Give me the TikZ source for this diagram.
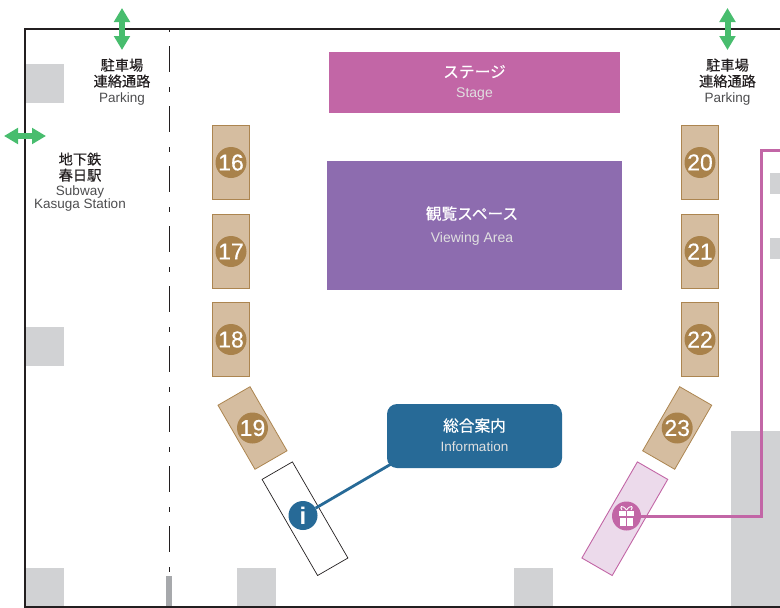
\documentclass[tikz,border=0pt]{standalone}
\usepackage{fontspec}
\setmainfont{Liberation Sans}
\newfontfamily\cjk[FakeBold=0.25]{Noto Sans CJK JP}
\newfontfamily\numf[FakeBold=0.3]{Liberation Sans}
\usetikzlibrary{arrows.meta}
\definecolor{stagec}{HTML}{C266A6}
\definecolor{viewc}{HTML}{8D6CAF}
\definecolor{infoc}{HTML}{276A97}
\definecolor{boothf}{HTML}{D5BDA0}
\definecolor{boothd}{HTML}{AC8550}
\definecolor{numc}{HTML}{A9824B}
\definecolor{greyc}{HTML}{D1D2D4}
\definecolor{giftf}{HTML}{ECDAEB}
\definecolor{barc}{HTML}{A7A9AC}
\definecolor{greenc}{HTML}{48BD6E}
\definecolor{ink}{HTML}{231F20}
\definecolor{enc}{HTML}{4D4D4F}
\tikzset{
  greyblock/.style={fill=greyc,draw=none},
  boothbox/.style={fill=boothf,draw=boothd,line width=0.8pt},
  numdot/.style={circle,fill=numc,draw=none,minimum size=31pt,inner sep=0pt,text=white,font=\numf\fontsize{23}{23}\selectfont},
  bigbox/.style={draw=none,inner sep=0pt},
  boxjp/.style={anchor=base,inner sep=0pt,text=white,font=\cjk\fontsize{15.7}{16}\selectfont},
  boxen/.style={anchor=base,inner sep=0pt,text=white!88!black,font=\fontsize{14}{14}\selectfont},
  jp/.style={anchor=base,align=center,inner sep=0pt,font=\cjk\fontsize{14.2}{16}\selectfont,text=ink},
  en/.style={anchor=base,align=center,inner sep=0pt,text=enc,font=\fontsize{13.5}{13}\selectfont},
  greenarrow/.style={draw=greenc,line width=6pt,{Triangle[width=15.5pt,length=14pt]}-{Triangle[width=15.5pt,length=14pt]}}
}
\begin{document}
\begin{tikzpicture}[x=1pt,y=-1pt]
\useasboundingbox (0,0) rectangle (780,608);
% grey blocks
\fill[greyblock] (25,64) rectangle (64,103);
\fill[greyblock] (25,327) rectangle (64,366);
\fill[greyblock] (25,568) rectangle (64,606);
\fill[greyblock] (237,568) rectangle (276,606);
\fill[greyblock] (514,568) rectangle (553,606);
\fill[greyblock] (731,431) rectangle (780,606);
\fill[greyblock] (770,173) rectangle (780,194);
\fill[greyblock] (770,238) rectangle (780,259);
\fill[barc] (166,576) rectangle (172,606);
% frame
\draw[ink,line width=2pt] (780,29) -- (25,29) -- (25,606.5) -- (780,606.5);
% dash-dot line
\coordinate (d1) at (169.5,29);
\coordinate (d2) at (169.5,574);
\draw[ink,line width=1.4pt,dash pattern=on 5pt off 14pt on 26pt off 15pt,dash phase=2pt] (d1) -- (d2);
% stage etc
\node[bigbox,fill=stagec,minimum width=291pt,minimum height=61pt] (stage) at (474.5,82.5) {};
\node[boxjp] (stagej) at (474.5,77.5) {ステージ};
\node[boxen] (stagee) at (474.5,97) {Stage};
\node[bigbox,fill=viewc,minimum width=295pt,minimum height=129pt] (view) at (474.5,225.5) {};
\node[boxjp] (viewj) at (472,219.5) {観覧スペース};
\node[boxen] (viewe) at (472,242) {Viewing Area};
% booths
\foreach \nm/\xx/\yy/\lab in {b16/231/162.5/16,b17/231/251.5/17,b18/231/339.5/18,b20/700/162.5/20,b21/700/251.5/21,b22/700/339.5/22}{
  \node[boothbox,minimum width=37pt,minimum height=74pt,inner sep=0pt] (\nm) at (\xx,\yy) {};
  \node[numdot] (n\lab) at (\nm.center) {\lab};
}
\node[boothbox,minimum width=37pt,minimum height=74pt,inner sep=0pt,rotate=30] (b19) at (252.5,428) {};
\node[numdot] (n19) at (b19.center) {19};
\node[boothbox,minimum width=37pt,minimum height=74pt,inner sep=0pt,rotate=-30] (b23) at (677.2,428) {};
\node[numdot] (n23) at (b23.center) {23};
% info desk
\node[draw=ink,line width=0.7pt,fill=white,minimum width=35pt,minimum height=111pt,inner sep=0pt,rotate=30] (idesk) at (305,518.7) {};
\node[draw=stagec,line width=0.9pt,fill=giftf,minimum width=35pt,minimum height=111pt,inner sep=0pt,rotate=-30] (gdesk) at (624.8,518.7) {};
% info box and icon
\node[bigbox,fill=infoc,rounded corners=10pt,minimum width=175pt,minimum height=64pt] (ibox) at (474.5,436) {};
\node[boxjp] (iboxj) at (474.5,431.5) {総合案内};
\node[boxen,font=\fontsize{13.5}{14}\selectfont] (iboxe) at (474.5,451) {Information};
\node[circle,fill=infoc,minimum size=29pt,inner sep=0pt,text=white,font=\bfseries\fontsize{24}{24}\selectfont] (icirc) at (303,515.5) {i};
\draw[infoc,line width=2.8pt] (icirc) -- ([xshift=4pt,yshift=4pt]ibox.south west);
% gift
\coordinate (gc1) at (761,516);
\coordinate (gc2) at (761,150);
\coordinate (gc3) at (780,150);
\node[circle,fill=stagec,minimum size=29pt,inner sep=0pt] (gcirc) at (626.5,516) {};
\draw[stagec,line width=3pt,line join=miter] (gcirc) -- (gc1) -- (gc2) -- (gc3);
\fill[white] (619,511) rectangle (625.7,516);
\fill[white] (627.3,511) rectangle (634,516);
\fill[white] (619.7,518) rectangle (625.7,525.5);
\fill[white] (627.3,518) rectangle (633.3,525.5);
\draw[white,line width=0.9pt] (626.5,510) .. controls (622,504) and (619,507) .. (622,510);
\draw[white,line width=0.9pt] (626.5,510) .. controls (631,504) and (634,507) .. (631,510);
% arrows
\coordinate (a1) at (122,8); \coordinate (a2) at (122,50);
\coordinate (a3) at (727.5,8); \coordinate (a4) at (727.5,50);
\coordinate (a5) at (4,136); \coordinate (a6) at (46,136);
\draw[greenarrow] (a1) -- (a2);
\draw[greenarrow] (a3) -- (a4);
\draw[greenarrow] (a5) -- (a6);
% labels
\node[jp] (p1) at (122,70.5) {駐車場};
\node[jp] (p1b) at (122,86.5) {連絡通路};
\node[en] (p1e) at (122,102) {Parking};
\node[jp] (p2) at (727.5,70.5) {駐車場};
\node[jp] (p2b) at (727.5,86.5) {連絡通路};
\node[en] (p2e) at (727.5,102) {Parking};
\node[jp] (s1) at (80,164.5) {地下鉄};
\node[jp] (s1b) at (80,180.5) {春日駅};
\node[en] (s1e) at (80,195.5) {Subway};
\node[en] (s1f) at (80,208.5) {Kasuga Station};
\end{tikzpicture}
\end{document}
